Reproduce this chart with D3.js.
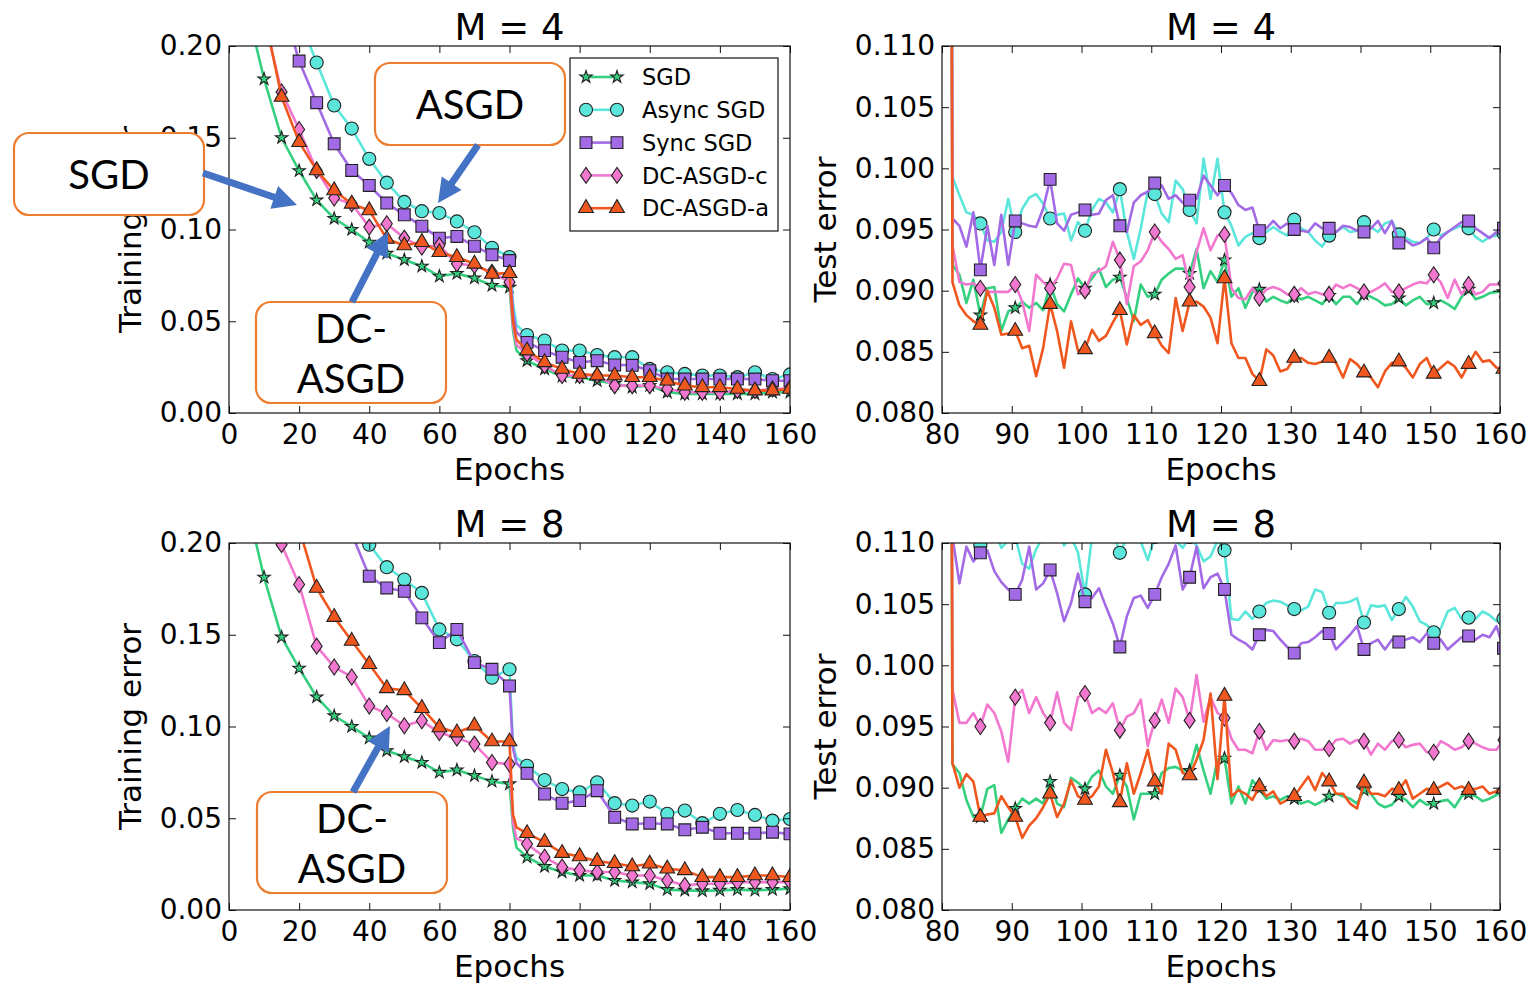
<!DOCTYPE html>
<html>
<head>
<meta charset="utf-8">
<script src="https://cdn.jsdelivr.net/npm/d3@7"></script>
<style>
  body { margin: 0; background: #fff; }
  svg text { font-family: "DejaVu Sans", sans-serif; fill: #000; }
  .callout text { font-family: Lato, "Noto Sans", sans-serif; }
</style>
</head>
<body>
<svg id="chart" width="1535" height="983"></svg>
<script>
// training error: markers every 5 epochs, 81/82 kept for the learning-rate drop
const trainEpochs = [0,5,10,15,20,25,30,35,40,45,50,55,60,65,70,75,80,81,82,85,90,95,100,105,110,115,120,125,130,135,140,145,150,155,160];

const sgdTrain4   = [0.9,0.222,0.182,0.150,0.132,0.116,0.106,0.100,0.093,0.087,0.0835,0.080,0.0745,0.076,0.0735,0.0695,0.0685,0.045,0.034,0.0285,0.024,0.020,0.0195,0.0176,0.016,0.014,0.015,0.0113,0.0104,0.0104,0.0104,0.0104,0.0104,0.0113,0.0113];
const asyncTrain4 = [0.9,0.45,0.33,0.26,0.215,0.191,0.1676,0.155,0.1385,0.1255,0.115,0.110,0.109,0.1044,0.0985,0.090,0.085,0.060,0.048,0.0425,0.0395,0.034,0.034,0.0316,0.0304,0.0304,0.024,0.0222,0.0213,0.0204,0.0204,0.0195,0.0222,0.0185,0.021];
const syncTrain4  = [0.9,0.4,0.29,0.225,0.1918,0.1691,0.1467,0.1322,0.124,0.1144,0.108,0.1018,0.0953,0.0962,0.0909,0.0862,0.0831,0.055,0.044,0.0385,0.034,0.0304,0.0276,0.0285,0.0262,0.026,0.0231,0.0185,0.0185,0.0185,0.0185,0.0185,0.0185,0.0176,0.0176];
const dccTrain4   = [0.9,0.3,0.215,0.175,0.1545,0.1322,0.1171,0.114,0.1013,0.1031,0.0953,0.0904,0.0913,0.0813,0.0804,0.0767,0.0713,0.048,0.037,0.0322,0.0258,0.0204,0.0204,0.0204,0.0149,0.0149,0.0149,0.0131,0.0113,0.0113,0.0113,0.0122,0.0122,0.0131,0.0135];
const dcaTrain4   = [0.9,0.3,0.218,0.1722,0.1476,0.1322,0.1213,0.114,0.1104,0.0949,0.0913,0.0931,0.0876,0.0849,0.0813,0.0758,0.0762,0.05,0.040,0.034,0.0276,0.024,0.0213,0.0204,0.0204,0.0195,0.0195,0.0176,0.0149,0.014,0.014,0.0131,0.0122,0.0122,0.0131];

const sgdTrain8   = [0.9,0.222,0.1813,0.1487,0.1317,0.1161,0.1058,0.100,0.0937,0.0868,0.0835,0.0804,0.075,0.0763,0.0732,0.0701,0.0687,0.045,0.034,0.0288,0.0237,0.0207,0.0188,0.0188,0.0161,0.0152,0.0143,0.0111,0.0107,0.0104,0.0107,0.0111,0.0107,0.0111,0.0116];
const asyncTrain8 = [0.9,0.6,0.45,0.37,0.31,0.27,0.24,0.225,0.1991,0.1868,0.1801,0.1728,0.1529,0.1475,0.1357,0.1266,0.1312,0.090,0.083,0.0786,0.0708,0.0659,0.0641,0.0696,0.0582,0.0569,0.0591,0.0524,0.0542,0.0473,0.0524,0.0545,0.0518,0.0487,0.0496];
const syncTrain8  = [0.9,0.55,0.42,0.35,0.3,0.26,0.23,0.205,0.1819,0.1755,0.1737,0.1592,0.1457,0.1529,0.1348,0.1312,0.1221,0.088,0.080,0.0745,0.0632,0.0582,0.0596,0.065,0.0505,0.0469,0.0473,0.0469,0.0437,0.0451,0.0418,0.0418,0.0418,0.0424,0.0415];
const dccTrain8   = [0.9,0.4,0.26,0.1991,0.1774,0.1438,0.1324,0.127,0.1112,0.1071,0.1004,0.1031,0.0967,0.0937,0.0904,0.0804,0.0795,0.048,0.039,0.036,0.0288,0.0234,0.0216,0.0207,0.0207,0.0188,0.0188,0.0161,0.0134,0.0143,0.0143,0.0152,0.0152,0.0152,0.0152];
const dcaTrain8   = [0.9,0.5,0.34,0.26,0.208,0.1755,0.1596,0.1466,0.1339,0.1208,0.1197,0.11,0.0995,0.0967,0.1004,0.0918,0.0918,0.052,0.045,0.0418,0.037,0.031,0.0292,0.0266,0.0255,0.0237,0.0252,0.0225,0.0216,0.0179,0.0179,0.0179,0.0188,0.0188,0.0179];

// test error, epochs 80..160 (first point is off the top of the axes)
const testEpochs = d3.range(80, 161);

const sgdTest4 = [0.3,
  0.0921,0.0913,0.0890,0.0909,0.0880,0.0902,0.0903,0.0867,0.0883,0.0886,0.0891,0.0886,0.0890,0.0884,0.0905,0.0889,0.0883,0.0897,0.0910,0.0902,
  0.0910,0.0918,0.0903,0.0909,0.0911,0.0894,0.0875,0.0905,0.0895,0.0897,0.0909,0.0914,0.0918,0.0918,0.0914,0.0934,0.0902,0.0916,0.0907,0.0925,
  0.0895,0.0902,0.0886,0.0899,0.0901,0.0891,0.0895,0.0892,0.0890,0.0895,0.0893,0.0895,0.0892,0.0889,0.0896,0.0889,0.0895,0.0895,0.0889,0.0897,
  0.0895,0.0892,0.0888,0.0889,0.0894,0.0888,0.0892,0.0895,0.0889,0.0890,0.0892,0.0889,0.0885,0.0895,0.0901,0.0893,0.0895,0.0898,0.0899,0.0899];
const asyncTest4 = [0.3,
  0.0993,0.0978,0.0964,0.0962,0.0955,0.0941,0.0940,0.0948,0.0975,0.0948,0.0967,0.0976,0.0979,0.0971,0.0959,0.0962,0.0963,0.0941,0.0956,0.0949,
  0.0966,0.0975,0.0972,0.0964,0.0983,0.0948,0.0926,0.0951,0.0981,0.0979,0.0963,0.0956,0.0990,0.0983,0.0966,0.0955,0.1008,0.0975,0.1008,0.0964,
  0.0953,0.0937,0.0944,0.0947,0.0943,0.0948,0.0952,0.0948,0.0945,0.0958,0.0951,0.0948,0.0941,0.0936,0.0945,0.0948,0.0952,0.0948,0.0949,0.0956,
  0.0952,0.0948,0.0955,0.0957,0.0946,0.0943,0.0940,0.0939,0.0943,0.0950,0.0945,0.0948,0.0951,0.0953,0.0951,0.0944,0.0940,0.0944,0.0945,0.0947];
const syncTest4 = [0.3,
  0.0959,0.0953,0.0936,0.0964,0.0917,0.0953,0.0921,0.0962,0.0921,0.0957,0.0955,0.0953,0.0952,0.0967,0.0991,0.0955,0.0949,0.0962,0.0964,0.0966,
  0.0962,0.0963,0.0974,0.0978,0.0953,0.0948,0.0972,0.0978,0.0981,0.0988,0.0986,0.0975,0.0978,0.0972,0.0974,0.0975,0.0994,0.0986,0.0978,0.0986,
  0.0980,0.0970,0.0966,0.0968,0.0949,0.0951,0.0957,0.0951,0.0955,0.0950,0.0949,0.0948,0.0955,0.0951,0.0951,0.0948,0.0953,0.0952,0.0949,0.0948,
  0.0951,0.0957,0.0947,0.0957,0.0939,0.0941,0.0937,0.0939,0.0943,0.0935,0.0943,0.0948,0.0952,0.0956,0.0957,0.0951,0.0947,0.0943,0.0948,0.0951];
const dccTest4 = [0.3,
  0.0937,0.0907,0.0905,0.0906,0.0902,0.0899,0.0899,0.0899,0.0899,0.0905,0.0891,0.0867,0.0913,0.0907,0.0902,0.0910,0.0922,0.0921,0.0897,0.0900,
  0.0914,0.0916,0.0920,0.0940,0.0925,0.0889,0.0920,0.0924,0.0933,0.0948,0.0940,0.0934,0.0926,0.0929,0.0903,0.0932,0.0951,0.0933,0.0945,0.0946,
  0.0902,0.0894,0.0893,0.0902,0.0894,0.0901,0.0903,0.0901,0.0897,0.0897,0.0902,0.0897,0.0899,0.0897,0.0897,0.0905,0.0902,0.0905,0.0902,0.0899,
  0.0899,0.0902,0.0906,0.0899,0.0899,0.0902,0.0905,0.0907,0.0906,0.0913,0.0907,0.0894,0.0909,0.0897,0.0905,0.0897,0.0899,0.0905,0.0905,0.0906];
const dcaTest4 = [0.3,
  0.0907,0.0888,0.0880,0.0875,0.0872,0.0900,0.0886,0.0864,0.0865,0.0867,0.0853,0.0855,0.0830,0.0853,0.0889,0.0867,0.0837,0.0875,0.0851,0.0852,
  0.0868,0.0859,0.0863,0.0874,0.0884,0.0856,0.0880,0.0872,0.0876,0.0865,0.0855,0.0849,0.0894,0.0867,0.0891,0.0891,0.0887,0.0878,0.0857,0.0910,
  0.0857,0.0845,0.0845,0.0832,0.0826,0.0852,0.0847,0.0834,0.0836,0.0845,0.0845,0.0841,0.0840,0.0842,0.0845,0.0841,0.0829,0.0844,0.0840,0.0833,
  0.0829,0.0821,0.0834,0.0841,0.0842,0.0837,0.0829,0.0840,0.0845,0.0832,0.0837,0.0842,0.0838,0.0829,0.0840,0.0850,0.0842,0.0843,0.0837,0.0836];

const sgdTest8 = [0.3,
  0.0919,0.0912,0.0890,0.0876,0.0876,0.0899,0.0902,0.0863,0.0874,0.0883,0.0891,0.0887,0.0891,0.0887,0.0905,0.0887,0.0884,0.0908,0.0904,0.0899,
  0.0909,0.0914,0.0901,0.0895,0.0910,0.0901,0.0874,0.0895,0.0895,0.0895,0.0912,0.0916,0.0917,0.0914,0.0914,0.0935,0.0914,0.0895,0.0923,0.0924,
  0.0887,0.0901,0.0887,0.0906,0.0899,0.0891,0.0893,0.0890,0.0893,0.0891,0.0887,0.0889,0.0886,0.0889,0.0893,0.0895,0.0893,0.0891,0.0887,0.0898,
  0.0895,0.0887,0.0884,0.0886,0.0893,0.0890,0.0884,0.0890,0.0886,0.0887,0.0889,0.0890,0.0884,0.0893,0.0895,0.0893,0.0889,0.0891,0.0894,0.0897];
const asyncTest8 = [0.3,
  0.1130,0.1120,0.1115,0.1110,0.1098,0.1105,0.1112,0.1096,0.1102,0.1105,0.1083,0.1079,0.1095,0.1105,0.1112,0.1112,0.1098,0.1105,0.1092,0.1058,
  0.1105,0.1115,0.1108,0.1110,0.1092,0.1104,0.1112,0.1101,0.1086,0.1105,0.1108,0.1120,0.1102,0.1096,0.1105,0.1098,0.1085,0.1089,0.1102,0.1094,
  0.1038,0.1037,0.1044,0.1038,0.1044,0.1051,0.1053,0.1052,0.1049,0.1046,0.1045,0.1048,0.1062,0.1060,0.1043,0.1051,0.1051,0.1052,0.1055,0.1035,
  0.1049,0.1048,0.1049,0.1037,0.1046,0.1056,0.1048,0.1036,0.1033,0.1027,0.1030,0.1044,0.1047,0.1038,0.1039,0.1038,0.1044,0.1041,0.1036,0.1038];
const syncTest8 = [0.3,
  0.1105,0.1067,0.1097,0.1085,0.1092,0.1094,0.1077,0.1068,0.1062,0.1058,0.1070,0.1097,0.1062,0.1067,0.1078,0.1059,0.1036,0.1051,0.1075,0.1052,
  0.1055,0.1063,0.1048,0.1034,0.1015,0.1040,0.1055,0.1057,0.1047,0.1058,0.1072,0.1083,0.1098,0.1062,0.1072,0.1097,0.1063,0.1072,0.1075,0.1062,
  0.1025,0.1021,0.1018,0.1013,0.1025,0.1029,0.1028,0.1021,0.1015,0.1010,0.1018,0.1019,0.1023,0.1028,0.1026,0.1013,0.1019,0.1025,0.1032,0.1013,
  0.1018,0.1021,0.1013,0.1021,0.1019,0.1021,0.1023,0.1019,0.1026,0.1018,0.1021,0.1013,0.1018,0.1023,0.1024,0.1021,0.1025,0.1023,0.1032,0.1014];
const dccTest8 = [0.3,
  0.0980,0.0953,0.0953,0.0961,0.0950,0.0968,0.0961,0.0946,0.0921,0.0974,0.0980,0.0961,0.0974,0.0961,0.0953,0.0978,0.0953,0.0947,0.0974,0.0977,
  0.0961,0.0965,0.0961,0.0969,0.0947,0.0958,0.0961,0.0972,0.0934,0.0955,0.0972,0.0953,0.0981,0.0974,0.0955,0.0992,0.0954,0.0974,0.0961,0.0957,
  0.0940,0.0931,0.0931,0.0928,0.0946,0.0931,0.0939,0.0938,0.0939,0.0938,0.0940,0.0938,0.0931,0.0931,0.0932,0.0939,0.0940,0.0936,0.0939,0.0938,
  0.0927,0.0936,0.0931,0.0938,0.0939,0.0933,0.0935,0.0936,0.0929,0.0929,0.0938,0.0935,0.0931,0.0933,0.0938,0.0936,0.0933,0.0931,0.0931,0.0939];
const dcaTest8 = [0.3,
  0.0920,0.0900,0.0911,0.0905,0.0876,0.0878,0.0879,0.0893,0.0884,0.0876,0.0859,0.0869,0.0875,0.0884,0.0895,0.0876,0.0887,0.0906,0.0893,0.0890,
  0.0893,0.0901,0.0931,0.0912,0.0888,0.0920,0.0895,0.0912,0.0931,0.0905,0.0895,0.0936,0.0931,0.0912,0.0910,0.0923,0.0939,0.0977,0.0907,0.0975,
  0.0893,0.0898,0.0895,0.0890,0.0901,0.0893,0.0897,0.0887,0.0890,0.0893,0.0901,0.0909,0.0898,0.0912,0.0905,0.0895,0.0895,0.0887,0.0883,0.0904,
  0.0895,0.0895,0.0893,0.0899,0.0898,0.0906,0.0891,0.0895,0.0899,0.0898,0.0901,0.0904,0.0899,0.0901,0.0898,0.0899,0.0901,0.0895,0.0897,0.0899];

const seriesNames = ['SGD', 'Async SGD', 'Sync SGD', 'DC-ASGD-c', 'DC-ASGD-a'];
const seriesColors = ['#34d07f', '#5be6dc', '#a36ae6', '#f277cf', '#f0571f'];
const seriesShapes = ['star', 'circle', 'square', 'diamond', 'triangle'];

const svg = d3.select('#chart');

const markerPath = {
  star: d3.symbol(d3.symbolStar, 48)(),
  circle: d3.symbol(d3.symbolCircle, 135)(),
  square: d3.symbol(d3.symbolSquare, 140)(),
  diamond: 'M0,-8L5.5,0L0,8L-5.5,0Z',
  triangle: d3.symbol(d3.symbolTriangle, 95)()
};

function drawMarker(g, shape, cx, cy, color) {
  g.append('path')
    .attr('d', markerPath[shape])
    .attr('transform', `translate(${cx},${cy})`)
    .attr('fill', color)
    .attr('stroke', '#222')
    .attr('stroke-width', 1.1);
}

const panels = [
  { id: 'p1', left: 229, top: 46, w: 561, h: 367, xDom: [0, 160], xStep: 20, yDom: [0, 0.2], yStep: 0.05, fmt: '.2f',
    title: 'M = 4', ylabel: 'Training error', ylabX: 141, epochs: trainEpochs, shift: 0,
    data: [sgdTrain4, asyncTrain4, syncTrain4, dccTrain4, dcaTrain4] },
  { id: 'p2', left: 942, top: 46, w: 558, h: 367, xDom: [80, 160], xStep: 10, yDom: [0.08, 0.11], yStep: 0.005, fmt: '.3f',
    title: 'M = 4', ylabel: 'Test error', ylabX: 836, epochs: testEpochs, shift: 0.5,
    data: [sgdTest4, asyncTest4, syncTest4, dccTest4, dcaTest4] },
  { id: 'p3', left: 229, top: 543, w: 561, h: 367, xDom: [0, 160], xStep: 20, yDom: [0, 0.2], yStep: 0.05, fmt: '.2f',
    title: 'M = 8', ylabel: 'Training error', ylabX: 141, epochs: trainEpochs, shift: 0,
    data: [sgdTrain8, asyncTrain8, syncTrain8, dccTrain8, dcaTrain8] },
  { id: 'p4', left: 942, top: 543, w: 558, h: 367, xDom: [80, 160], xStep: 10, yDom: [0.08, 0.11], yStep: 0.005, fmt: '.3f',
    title: 'M = 8', ylabel: 'Test error', ylabX: 836, epochs: testEpochs, shift: 0.5,
    data: [sgdTest8, asyncTest8, syncTest8, dccTest8, dcaTest8] }
];

function drawPanel(p) {
  const g = svg.append('g').attr('transform', `translate(${p.left},${p.top})`);
  const x = d3.scaleLinear().domain(p.xDom).range([0, p.w]);
  const y = d3.scaleLinear().domain(p.yDom).range([p.h, 0]);

  const nx = Math.round((p.xDom[1] - p.xDom[0]) / p.xStep);
  const ny = Math.round((p.yDom[1] - p.yDom[0]) / p.yStep);
  const xt = d3.range(nx + 1).map(i => p.xDom[0] + i * p.xStep);
  const yt = d3.range(ny + 1).map(i => p.yDom[0] + i * p.yStep);

  svg.append('defs').append('clipPath').attr('id', 'clip-' + p.id)
    .append('rect').attr('width', p.w).attr('height', p.h);

  // series (drawn in legend order so DC-ASGD-a ends on top)
  const plot = g.append('g').attr('clip-path', `url(#clip-${p.id})`);
  p.data.forEach((vals, k) => {
    const pts = p.epochs.map((e, i) => ({ e, v: vals[i] }));
    const line = d3.line().x(d => x(d.e + p.shift)).y(d => y(d.v));
    plot.append('path')
      .attr('d', line(pts))
      .attr('fill', 'none')
      .attr('stroke', seriesColors[k])
      .attr('stroke-width', 2.6)
      .attr('stroke-linejoin', 'round');
    pts.filter(d => d.e % 5 === 0).forEach(d => {
      drawMarker(plot, seriesShapes[k], x(d.e + p.shift), y(d.v), seriesColors[k]);
    });
  });

  // axes: ticks inside on all four sides
  const fontSize = 28;
  const xb = g.append('g').attr('transform', `translate(0,${p.h})`)
    .call(d3.axisBottom(x).tickValues(xt).tickFormat(d3.format('d')).tickSizeInner(-7).tickSizeOuter(0).tickPadding(11));
  const xtop = g.append('g')
    .call(d3.axisTop(x).tickValues(xt).tickFormat('').tickSizeInner(-7).tickSizeOuter(0));
  const yl = g.append('g')
    .call(d3.axisLeft(y).tickValues(yt).tickFormat(d3.format(p.fmt)).tickSizeInner(-7).tickSizeOuter(0).tickPadding(7));
  const yr = g.append('g').attr('transform', `translate(${p.w},0)`)
    .call(d3.axisRight(y).tickValues(yt).tickFormat('').tickSizeInner(-7).tickSizeOuter(0));
  [xb, xtop, yl, yr].forEach(a => {
    a.select('.domain').remove();
    a.selectAll('line').attr('stroke', '#111').attr('stroke-width', 1);
    a.selectAll('text').attr('font-size', fontSize).attr('font-family', '"DejaVu Sans", sans-serif').attr('fill', '#000');
  });

  g.append('rect')
    .attr('width', p.w).attr('height', p.h)
    .attr('fill', 'none').attr('stroke', '#111').attr('stroke-width', 1.2);

  g.append('text')
    .attr('x', p.w / 2).attr('y', -6)
    .attr('text-anchor', 'middle')
    .attr('font-size', 37)
    .text(p.title);

  g.append('text')
    .attr('x', p.w / 2).attr('y', p.h + 67)
    .attr('text-anchor', 'middle')
    .attr('font-size', 31)
    .text('Epochs');

  svg.append('text')
    .attr('transform', `translate(${p.ylabX},${p.top + p.h / 2}) rotate(-90)`)
    .attr('text-anchor', 'middle')
    .attr('font-size', 31)
    .text(p.ylabel);
}

panels.forEach(drawPanel);

// legend (top-left panel)
function drawLegend() {
  const lg = svg.append('g').attr('transform', 'translate(570,58)');
  lg.append('rect').attr('width', 208).attr('height', 173)
    .attr('fill', '#fff').attr('stroke', '#111').attr('stroke-width', 1.2);
  seriesNames.forEach((name, k) => {
    const cy = 19 + k * 32.8;
    lg.append('line').attr('x1', 16).attr('x2', 47).attr('y1', cy).attr('y2', cy)
      .attr('stroke', seriesColors[k]).attr('stroke-width', 2.6);
    drawMarker(lg, seriesShapes[k], 16, cy, seriesColors[k]);
    drawMarker(lg, seriesShapes[k], 47, cy, seriesColors[k]);
    lg.append('text').attr('x', 72).attr('y', cy).attr('dy', '0.36em')
      .attr('font-size', 22.5).text(name);
  });
}
drawLegend();

// orange call-out boxes with blue arrows
const callouts = [
  { x: 14,  y: 133, w: 190, h: 82,  lines: ['SGD'],         base: [56],     arrow: [203, 173, 297, 205] },
  { x: 375, y: 63,  w: 190, h: 82,  lines: ['ASGD'],        base: [56],     arrow: [478, 145, 438, 203] },
  { x: 256, y: 302, w: 190, h: 101, lines: ['DC-', 'ASGD'], base: [41, 91], arrow: [352, 302, 388, 232] },
  { x: 257, y: 792, w: 190, h: 101, lines: ['DC-', 'ASGD'], base: [41, 91], arrow: [353, 792, 390, 726] }
];

function arrowPoints(x1, y1, x2, y2) {
  const dx = x2 - x1, dy = y2 - y1, len = Math.hypot(dx, dy);
  const ux = dx / len, uy = dy / len, nx = -uy, ny = ux;
  const sw = 3.5, hw = 12, hl = 24;
  const bx = x2 - ux * hl, by = y2 - uy * hl;
  return [
    [x1 + nx * sw, y1 + ny * sw], [bx + nx * sw, by + ny * sw], [bx + nx * hw, by + ny * hw],
    [x2, y2],
    [bx - nx * hw, by - ny * hw], [bx - nx * sw, by - ny * sw], [x1 - nx * sw, y1 - ny * sw]
  ];
}

callouts.forEach(c => {
  const cg = svg.append('g').attr('class', 'callout');
  cg.append('rect')
    .attr('x', c.x).attr('y', c.y).attr('width', c.w).attr('height', c.h)
    .attr('rx', 15).attr('ry', 15)
    .attr('fill', '#fff').attr('stroke', '#ED7D31').attr('stroke-width', 2.2);
  c.lines.forEach((t, i) => {
    cg.append('text')
      .attr('x', c.x + c.w / 2).attr('y', c.y + c.base[i])
      .attr('text-anchor', 'middle')
      .attr('font-size', 40)
      .text(t);
  });
  cg.append('polygon')
    .attr('points', arrowPoints(...c.arrow).map(p => p.join(',')).join(' '))
    .attr('fill', '#4472C4');
});
</script>
</body>
</html>
